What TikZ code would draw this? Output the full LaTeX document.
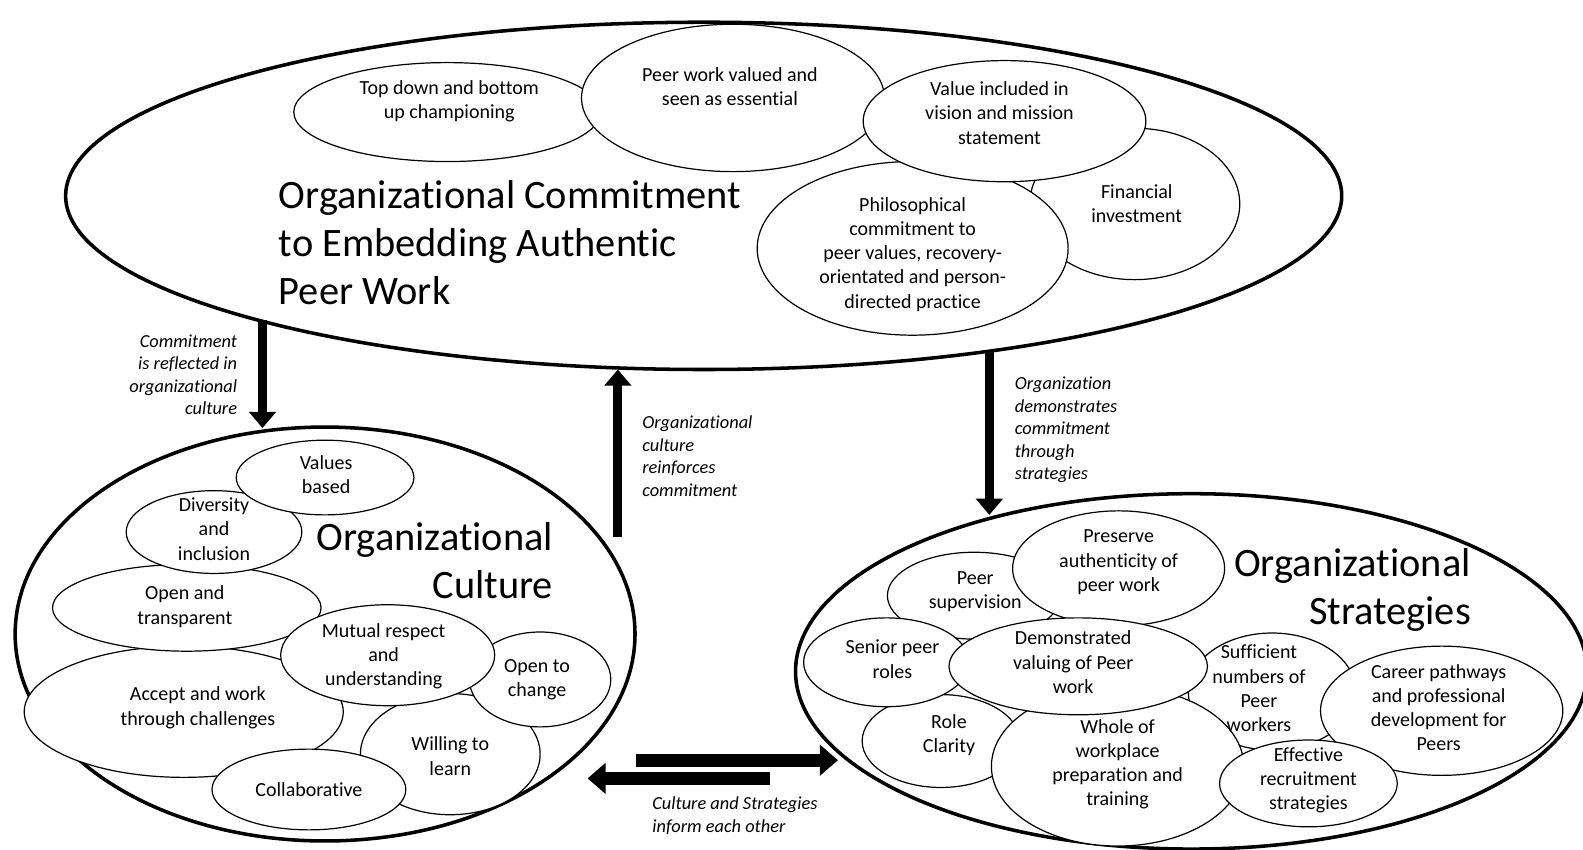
\documentclass[tikz,border=0pt]{standalone}
\usepackage{fontspec}
\setmainfont{Carlito}[Ligatures=NoCommon]
\usetikzlibrary{shapes.geometric,arrows.meta}
\begin{document}
\begin{tikzpicture}[x=1pt,y=-1pt,
 bub/.style={ellipse,draw,fill=white,line width=1.2pt,inner sep=0pt},
 big/.style={ellipse,draw,fill=white,line width=3.5pt,inner sep=0pt},
 txt/.style={align=center,font=\fontsize{19.8}{24}\selectfont,inner sep=0pt},
 ttl/.style={font=\fontsize{40}{47.5}\selectfont,inner sep=0pt},
 lab/.style={font=\itshape\fontsize{18.2}{22.3}\selectfont,inner sep=0pt},
 fat/.style={line width=9pt,-{Triangle[width=26pt,length=16pt]}},
 wide/.style={line width=13pt,-{Triangle[width=30pt,length=18pt]}}]
\useasboundingbox (0,0) rectangle (1568,841);
\fill[white] (0,0) rectangle (1568,841);

% big ellipses
\node[big,minimum width=1264pt,minimum height=344pt] (top) at (697,194) {};
\node[big,minimum width=614pt,minimum height=410pt] (cul) at (322,628) {};
\node[big,minimum width=784pt,minimum height=352pt] (str) at (1180,665) {};

% top bubbles
\node[bub,minimum width=304pt,minimum height=98pt] (td) at (443,111) {};
\node[bub,minimum width=208pt,minimum height=150pt] (fi) at (1124,202) {};
\node[bub,minimum width=308pt,minimum height=172pt] (ph) at (904,246) {};
\node[bub,minimum width=300pt,minimum height=146pt] (pw) at (726,97) {};
\node[bub,minimum width=280pt,minimum height=120pt] (vi) at (995,120) {};
\node[txt] (tdt) at (445,100) {Top down and bottom\\up championing};
\node[txt] (pwt) at (723,86) {Peer work valued and\\seen as essential};
\node[txt] (vit) at (990,112) {Value included in\\vision and mission\\statement};
\node[txt] (fit) at (1126,202) {Financial\\investment};
\node[txt] (pht) at (904,252) {Philosophical\\commitment to\\peer values, recovery-\\orientated and person-\\directed practice};
\node[ttl,align=left,anchor=west] (tt) at (276,240) {Organizational Commitment\\to Embedding Authentic\\Peer Work};

% culture bubbles
\node[bub,minimum width=178pt,minimum height=120pt] (wl) at (446,747) {};
\node[bub,minimum width=140pt,minimum height=94pt] (oc) at (535,673) {};
\node[bub,minimum width=316pt,minimum height=130pt] (aw) at (182,705) {};
\node[bub,minimum width=266pt,minimum height=86pt] (ot) at (185,602) {};
\node[bub,minimum width=174pt,minimum height=82pt] (di) at (212,527) {};
\node[bub,minimum width=176pt,minimum height=74pt] (vb) at (322,473) {};
\node[bub,minimum width=212pt,minimum height=100pt] (mr) at (384,649) {};
\node[bub,minimum width=192pt,minimum height=80pt] (co) at (306,782) {};
\node[txt] (vbt) at (323,470) {Values\\based};
\node[txt] (dit) at (212,524) {Diversity\\and\\inclusion};
\node[txt] (ott) at (183,601) {Open and\\transparent};
\node[txt] (mrt) at (380,650) {Mutual respect\\and\\understanding};
\node[txt] (oct) at (532,673) {Open to\\change};
\node[txt] (awt) at (196,701) {Accept and work\\through challenges};
\node[txt] (wlt) at (446,749) {Willing to\\learn};
\node[txt] (cot) at (306,782) {Collaborative};
\node[ttl,align=right,anchor=east] (ct) at (548,555) {Organizational\\Culture};

% strategies bubbles
\node[bub,minimum width=156pt,minimum height=92pt] (rc) at (932,734) {};
\node[bub,minimum width=166pt,minimum height=116pt] (sn) at (1260,685) {};
\node[bub,minimum width=250pt,minimum height=158pt] (ww) at (1107,759) {};
\node[bub,minimum width=172pt,minimum height=86pt] (ps) at (965,590) {};
\node[bub,minimum width=210pt,minimum height=114pt] (pa) at (1108,563) {};
\node[bub,minimum width=164pt,minimum height=88pt] (sp) at (878,656) {};
\node[bub,minimum width=256pt,minimum height=96pt] (dv) at (1068,660) {};
\node[bub,minimum width=240pt,minimum height=128pt] (cp) at (1428,704) {};
\node[bub,minimum width=176pt,minimum height=86pt] (er) at (1296,776) {};
\node[txt] (pat) at (1108,557) {Preserve\\authenticity of\\peer work};
\node[txt] (pst) at (966,586) {Peer\\supervision};
\node[txt] (spt) at (884,653) {Senior peer\\roles};
\node[txt] (dvt) at (1063,656) {Demonstrated\\valuing of Peer\\work};
\node[txt] (snt) at (1247,682) {Sufficient\\numbers of\\Peer\\workers};
\node[txt] (cpt) at (1425,701) {Career pathways\\and professional\\development for\\Peers};
\node[txt] (rct) at (940,728) {Role\\Clarity};
\node[txt] (wwt) at (1107,757) {Whole of\\workplace\\preparation and\\training};
\node[txt] (ert) at (1296,773) {Effective\\recruitment\\strategies};
\node[ttl,align=right,anchor=east] (st) at (1457,584) {Organizational\\Strategies};

% arrows
\coordinate (a1s) at (260,317);
\coordinate (a1e) at (260,424);
\coordinate (a2s) at (612,532);
\coordinate (a2e) at (612,366);
\coordinate (a3s) at (980,347);
\coordinate (a3e) at (980,510);
\coordinate (a4s) at (630,753);
\coordinate (a4e) at (830,753);
\coordinate (a5s) at (763,771);
\coordinate (a5e) at (582,771);
\draw[fat] (a1s) -- (a1e);
\draw[fat] (a2s) -- (a2e);
\draw[fat] (a3s) -- (a3e);
\draw[wide] (a4s) -- (a4e);
\draw[wide] (a5s) -- (a5e);

\node[lab,align=right,anchor=east] (l1) at (235,371) {Commitment\\is reflected in\\organizational\\culture};
\node[lab,align=left,anchor=west] (l2) at (636,452) {Organizational\\culture\\reinforces\\commitment};
\node[lab,align=left,anchor=west] (l3) at (1005,426) {Organization\\demonstrates\\commitment\\through\\strategies};
\node[lab,align=left,anchor=west] (l4) at (646,808) {Culture and Strategies\\inform each other};
\end{tikzpicture}
\end{document}
